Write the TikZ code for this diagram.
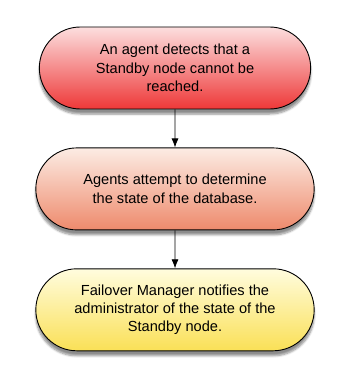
\documentclass[tikz,border=0pt]{standalone}
\usepackage{fontspec}
\setmainfont{Liberation Sans}
\usetikzlibrary{positioning,shapes.misc,shadows.blur,arrows.meta}
\definecolor{redtop}{RGB}{252,222,222}
\definecolor{redbot}{RGB}{238,56,56}
\definecolor{salmontop}{RGB}{252,236,228}
\definecolor{salmonbot}{RGB}{238,138,108}
\definecolor{yellowtop}{RGB}{255,252,222}
\definecolor{yellowbot}{RGB}{250,224,86}
\tikzset{
  % style for the rounded step boxes
  stepbox/.style={
    rounded rectangle, draw=black, line width=0.9pt,
    minimum height=82pt, align=center,
    font=\fontsize{14.6}{18.3}\selectfont,
    blur shadow={shadow xshift=0pt, shadow yshift=-5pt, shadow blur steps=6, shadow opacity=45},
  },
  flow/.style={-{Latex[length=9pt,width=7pt]}, line width=0.8pt},
}
\begin{document}
\begin{tikzpicture}
  % fix the page size
  \useasboundingbox (0,0) rectangle (345pt,-385pt);
  % the three steps
  \node[stepbox, minimum width=278pt, top color=redtop, bottom color=redbot]
    (detect) at (175pt,-68pt) {An agent detects that a\\Standby node cannot be\\reached.};
  \node[stepbox, minimum width=285pt, top color=salmontop, bottom color=salmonbot,
    below=38pt of detect] (attempt) {Agents attempt to determine\\the state of the database.};
  \node[stepbox, minimum width=285pt, top color=yellowtop, bottom color=yellowbot,
    below=38pt of attempt] (notify) {Failover Manager notifies the\\administrator of the state of the\\Standby node.};
  % connectors
  \draw[flow] (detect) -- (attempt);
  \draw[flow] (attempt) -- (notify);
\end{tikzpicture}
\end{document}
